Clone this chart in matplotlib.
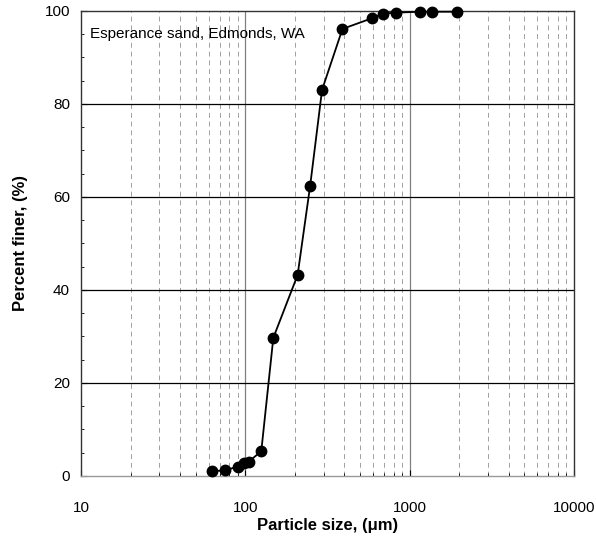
import matplotlib
matplotlib.use("Agg")
import matplotlib.pyplot as plt
from matplotlib.ticker import LogLocator, MultipleLocator, FixedLocator

plt.rcParams['font.family'] = ['Liberation Sans', 'DejaVu Sans']

# sieve data
size_um = [63, 75, 90, 98, 105, 125, 148, 208, 248, 293, 390, 590, 690, 830, 1150, 1360, 1950]
finer_pct = [1.0, 1.2, 2.0, 2.8, 3.1, 5.3, 29.7, 43.2, 62.4, 83.0, 96.1, 98.4, 99.4, 99.6, 99.8, 99.8, 99.8]

x_ticks = [10, 100, 1000, 10000]
x_labels = ['10', '100', '1000', '10000']
y_ticks = [0, 20, 40, 60, 80, 100]

fig = plt.figure(figsize=(5.96, 5.39), dpi=100)
ax = fig.add_axes([0.136, 0.117, 0.827, 0.863])

ax.set_xscale('log')
ax.set_xlim(10, 10000)
ax.set_ylim(0, 100)

# grid: dashed minor verticals, solid majors
minor_x = [m * d for d in (10, 100, 1000) for m in range(2, 10)]
for xv in minor_x:
    ax.axvline(xv, color='#a0a0a0', lw=0.7, ls=(0, (5, 4)), zorder=1)
for xv in (100, 1000):
    ax.axvline(xv, color='#808080', lw=0.9, zorder=1)
for yv in (20, 40, 60, 80):
    ax.axhline(yv, color='black', lw=0.9, zorder=1)

ax.plot(size_um, finer_pct, color='black', lw=1.3, marker='o', ms=7.5,
        mfc='black', mec='black', zorder=3, clip_on=False)

ax.xaxis.set_major_locator(FixedLocator(x_ticks))
ax.set_xticklabels(x_labels)
ax.xaxis.set_minor_locator(LogLocator(base=10, subs=range(2, 10)))
ax.xaxis.set_minor_formatter(plt.NullFormatter())
ax.set_yticks(y_ticks)
ax.yaxis.set_minor_locator(MultipleLocator(5))
ax.tick_params(axis='both', which='major', labelsize=11, length=4, direction='in', pad=8)
ax.tick_params(axis='x', which='major', pad=18)
ax.tick_params(axis='both', which='minor', length=2, direction='in')

for sp in ax.spines.values():
    sp.set_linewidth(1.0)
    sp.set_color('#333333')
ax.spines['bottom'].set_color('#999999')

ax.text(0.018, 0.965, 'Esperance sand, Edmonds, WA', transform=ax.transAxes,
        fontsize=11, va='top', ha='left')

ax.set_xlabel('Particle size, (\u03bcm)', fontsize=12, fontweight='bold', labelpad=2)
ax.set_ylabel('Percent finer, (%)', fontsize=12, fontweight='bold', labelpad=12)

fig.savefig('out.png', dpi=100)
